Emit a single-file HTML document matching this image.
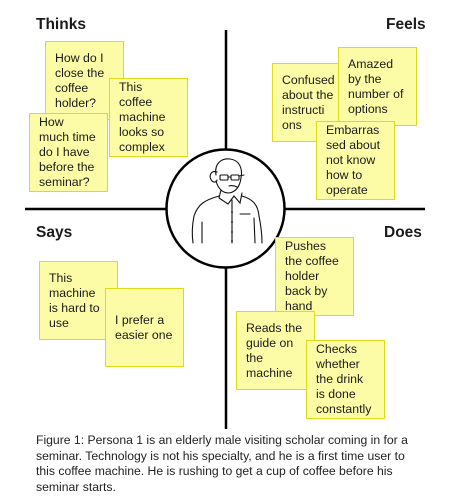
<!DOCTYPE html>
<html><head><meta charset="utf-8"><style>
html,body{margin:0;padding:0;background:#fff;}
body{width:450px;height:500px;position:relative;overflow:hidden;font-family:"Liberation Sans",sans-serif;color:#1a1a1a;}
.n{position:absolute;width:68px;height:77px;background:#fdfca6;border:1.5px solid #dcdc1c;display:flex;flex-direction:column;justify-content:center;padding-left:9px;box-sizing:content-box;font-size:12.3px;line-height:15px;white-space:nowrap;}
.h{position:absolute;font-weight:bold;font-size:15.5px;}
.cap{position:absolute;left:36px;top:433px;width:395px;font-size:12.2px;line-height:15.5px;color:#222;}
</style></head><body>
<svg width="450" height="500" style="position:absolute;left:0;top:0">
<line x1="226" y1="30" x2="226" y2="429" stroke="#000" stroke-width="2.5"/>
<line x1="25" y1="209" x2="425" y2="209" stroke="#000" stroke-width="2.5"/>
<circle cx="225.5" cy="208.5" r="59" fill="#fff" stroke="#000" stroke-width="2.5"/>
<g fill="none" stroke="#111" stroke-width="1.1" stroke-linecap="round">
<path d="M216 175 C214 163 222 158 230 159 C239 160 243 168 241 178 C240 186 236 192 229 193 C222 193 218 188 216 181"/>
<path d="M217 172 C211 170 208 176 212 181 C214 183 217 182 217 180"/>
<rect x="220" y="175" width="8" height="5" rx="1"/><rect x="231" y="175" width="8" height="5" rx="1"/>
<line x1="228" y1="177" x2="231" y2="177"/><line x1="239" y1="176" x2="244" y2="175"/>
<path d="M229 186 C232 185 235 186 237 187"/>
<path d="M221 190 L219 198 L228 204 L234 196 L240 203 L242 193"/>
<path d="M219 196 C205 200 198 204 194 216 C192 226 192 236 193 243"/>
<path d="M242 196 C252 199 258 204 259 216 C261 226 262 236 262 243"/>
<line x1="232" y1="200" x2="232" y2="243"/>
<path d="M202 222 L202 243"/><path d="M254 218 L255 243"/>
<line x1="240" y1="214" x2="250" y2="214"/>
</g>
<g fill="#111"><circle cx="232" cy="212" r="0.9"/><circle cx="232" cy="222" r="0.9"/><circle cx="232" cy="232" r="0.9"/><circle cx="232" cy="241" r="0.9"/></g>
</svg>
<div class="h" style="left:36px;top:16px">Thinks</div>
<div class="h" style="left:386px;top:16px">Feels</div>
<div class="h" style="left:36px;top:224px">Says</div>
<div class="h" style="left:384px;top:224px">Does</div>

<div class="n" style="left:45px;top:41px">How do I<br>close the<br>coffee<br>holder?</div>
<div class="n" style="left:109px;top:78px">This<br>coffee<br>machine<br>looks so<br>complex</div>
<div class="n" style="left:29px;top:113px">How<br>much time<br>do I have<br>before the<br>seminar?</div>

<div class="n" style="left:272px;top:63px">Confused<br>about the<br>instructi<br>ons</div>
<div class="n" style="left:338px;top:47px">Amazed<br>by the<br>number of<br>options</div>
<div class="n" style="left:316px;top:121px">Embarras<br>sed about<br>not know<br>how to<br>operate</div>

<div class="n" style="left:39px;top:261px">This<br>machine<br>is hard to<br>use</div>
<div class="n" style="left:105px;top:288px">I prefer a<br>easier one</div>

<div class="n" style="left:275px;top:237px">Pushes<br>the coffee<br>holder<br>back by<br>hand</div>
<div class="n" style="left:236px;top:311px">Reads the<br>guide on<br>the<br>machine</div>
<div class="n" style="left:306px;top:340px">Checks<br>whether<br>the drink<br>is done<br>constantly</div>

<div class="cap">Figure 1: Persona 1 is an elderly male visiting scholar coming in for a<br>seminar. Technology is not his specialty, and he is a first time user to<br>this coffee machine. He is rushing to get a cup of coffee before his<br>seminar starts.</div>
</body></html>
